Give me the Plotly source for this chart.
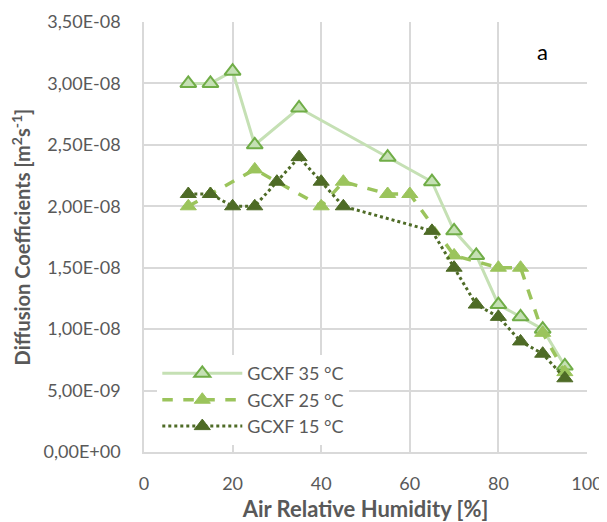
import plotly.graph_objects as go

rh_35 = [10, 15, 20, 25, 35, 55, 65, 70, 75, 80, 85, 90, 95]
d_35 = [3.0e-8, 3.0e-8, 3.1e-8, 2.5e-8, 2.8e-8, 2.4e-8, 2.2e-8, 1.8e-8, 1.6e-8, 1.2e-8, 1.1e-8, 1.0e-8, 0.7e-8]

rh_25 = [10, 15, 25, 40, 45, 55, 60, 70, 80, 85, 90, 95]
d_25 = [2.0e-8, 2.1e-8, 2.3e-8, 2.0e-8, 2.2e-8, 2.1e-8, 2.1e-8, 1.6e-8, 1.5e-8, 1.5e-8, 0.97e-8, 0.65e-8]

rh_15 = [10, 15, 20, 25, 30, 35, 40, 45, 65, 70, 75, 80, 85, 90, 95]
d_15 = [2.1e-8, 2.1e-8, 2.0e-8, 2.0e-8, 2.2e-8, 2.4e-8, 2.2e-8, 2.0e-8, 1.8e-8, 1.5e-8, 1.2e-8, 1.1e-8, 0.9e-8, 0.8e-8, 0.6e-8]

y_tick_vals = [0, 5e-9, 1e-8, 1.5e-8, 2e-8, 2.5e-8, 3e-8, 3.5e-8]
y_tick_text = ["0,00E+00", "5,00E-09", "1,00E-08", "1,50E-08", "2,00E-08", "2,50E-08", "3,00E-08", "3,50E-08"]
x_tick_vals = [0, 20, 40, 60, 80, 100]

FONT = "Lato, Open Sans, sans-serif"
GREY = "#595959"

fig = go.Figure()
fig.add_trace(go.Scatter(
    x=rh_35, y=d_35, name="GCXF 35 °C", mode="lines+markers",
    line=dict(color="#C5E0B4", width=3),
    marker=dict(symbol="triangle-up", size=14, color="#C5E0B4",
                line=dict(color="#70AD47", width=2)),
))
fig.add_trace(go.Scatter(
    x=rh_25, y=d_25, name="GCXF 25 °C", mode="lines+markers",
    line=dict(color="#9BC45C", width=3.5, dash="dash"),
    marker=dict(symbol="triangle-up", size=14, color="#9BC45C",
                line=dict(color="#9BC45C", width=1)),
))
fig.add_trace(go.Scatter(
    x=rh_15, y=d_15, name="GCXF 15 °C", mode="lines+markers",
    line=dict(color="#4E6B26", width=3, dash="dot"),
    marker=dict(symbol="triangle-up", size=14, color="#4E6B26",
                line=dict(color="#4E6B26", width=1)),
))

fig.add_annotation(text="a", x=90, y=3.26e-8, xref="x", yref="y",
                   showarrow=False, font=dict(size=22, color="#000000", family=FONT))

fig.update_layout(
    width=599, height=514,
    margin=dict(l=136, r=20, t=14, b=70, autoexpand=False),
    paper_bgcolor="white", plot_bgcolor="white",
    font=dict(family=FONT, color=GREY, size=18),
    legend=dict(x=0.03, y=0.016, xanchor="left", yanchor="bottom",
                bgcolor="white", font=dict(size=18, color=GREY),
                itemwidth=80, tracegroupgap=0),
    showlegend=True,
)
fig.update_xaxes(
    range=[0, 100], tickvals=x_tick_vals, showgrid=True, gridcolor="#D9D9D9",
    gridwidth=1.5, zeroline=False, showline=True, linecolor="#D9D9D9", linewidth=1.5,
    ticks="", tickfont=dict(size=18, color=GREY), ticklabelstandoff=15, automargin=False,
    title=dict(text="<b>Air Relative Humidity [%]</b>", font=dict(size=22, color=GREY), standoff=8),
)
fig.update_yaxes(
    range=[0, 3.5e-8], tickvals=y_tick_vals, ticktext=y_tick_text, showgrid=True,
    gridcolor="#D9D9D9", gridwidth=1.5, zeroline=False, showline=True, linecolor="#D9D9D9",
    linewidth=1.5, ticks="", tickfont=dict(size=18, color=GREY), ticklabelstandoff=18,
    automargin=False,
    title=dict(text="<b>Diffusion Coefficients [m<sup>2</sup>s<sup>-1</sup>]</b>",
               font=dict(size=20, color=GREY), standoff=8),
)

fig.write_html("out.html")
